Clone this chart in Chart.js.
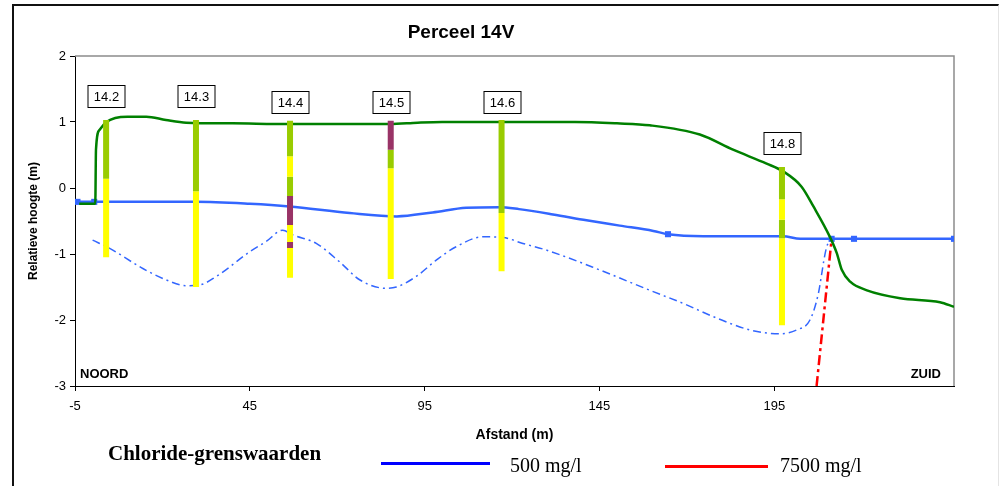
<!DOCTYPE html>
<html>
<head>
<meta charset="utf-8">
<script src="https://cdn.jsdelivr.net/npm/chart.js"></script>
<style>
body { margin: 0; background: #fff; }
.wrap { position: relative; width: 1002px; height: 486px; overflow: hidden; }
.kader { position: absolute; left: 12px; top: 4px; width: 987px; height: 520px; border-left: 2px solid #111; border-top: 2px solid #111; border-right: 1px solid #e4e4e4; box-sizing: border-box; }
.titel { position: absolute; left: 361px; top: 22px; width: 200px; text-align: center; font: bold 19px/19px 'Liberation Sans', Arial, sans-serif; }
.leg { position: absolute; font-family: 'Liberation Serif', 'Times New Roman', serif; white-space: nowrap; }
.legkop { left: 108px; top: 443px; font-size: 21px; line-height: 21px; font-weight: bold; }
.legtxt { top: 455px; font-size: 20px; line-height: 20px; }
.legline { position: absolute; height: 3px; }
</style>
</head>
<body>
<div class="wrap">
    <canvas id="chartPerceel14V"></canvas>
    <div class="kader"></div>
    <div class="titel">Perceel 14V</div>
    <div class="leg legkop">Chloride-grenswaarden</div>
    <div class="legline" style="left:381px;top:462px;width:109px;background:#0000FF"></div>
    <div class="leg legtxt" style="left:510px">500 mg/l</div>
    <div class="legline" style="left:665px;top:465px;width:103px;background:#FF0000"></div>
    <div class="leg legtxt" style="left:780px">7500 mg/l</div>
</div>
<script>
// assen
const xTicks = [-5, 45, 95, 145, 195];
const yTicks = [-3, -2, -1, 0, 1, 2];

// maaiveld (groen)
const maaiveldX = [-3.8, 0.8, 1.0, 2.0, 4.0, 6.5, 10, 15.4, 21, 26.8, 40, 56.4, 85, 93, 100, 138, 150, 159.4, 173.7, 183.2, 192.8, 197.6, 202.8, 206.2, 210.9, 212.9, 214.3, 216.7, 221.5, 231, 242.4, 246.4];
const maaiveldY = [-0.24, -0.24, 0.58, 0.88, 1.0, 1.06, 1.08, 1.08, 1.03, 0.99, 0.98, 0.97, 0.97, 0.99, 1.0, 1.0, 0.98, 0.95, 0.81, 0.58, 0.37, 0.25, 0.02, -0.28, -0.74, -0.99, -1.24, -1.42, -1.55, -1.67, -1.73, -1.8];

// grondwater (blauw)
const waterX = [-4.3, 0.5, 15, 29.5, 45, 56.3, 73.6, 87, 97.3, 106.9, 116.4, 122, 131.7, 141.3, 150.8, 160.4, 164.6, 174.7, 197.5, 202.4, 211.4, 217.8, 246.4];
const waterY = [-0.21, -0.21, -0.21, -0.21, -0.24, -0.28, -0.38, -0.43, -0.37, -0.30, -0.29, -0.32, -0.40, -0.49, -0.57, -0.65, -0.70, -0.73, -0.73, -0.77, -0.77, -0.77, -0.77];
const waterMeetpunten = [0, 1, 16, 20, 21, 22];

// chloride 500 mg/l
const cl500X = [0.04, 4.8, 14.4, 21, 26.8, 30.6, 35.4, 44.9, 49.7, 54.4, 57.3, 64, 70.7, 76.4, 84, 86.9, 92.6, 98.4, 104, 111.7, 117.4, 123.1, 129.8, 145, 159.4, 169, 178.5, 188, 196.6, 201.4, 205.2, 207.6, 208.6, 209.2, 210, 211.4];
const cl500Y = [-0.79, -0.91, -1.22, -1.39, -1.48, -1.47, -1.34, -0.97, -0.81, -0.64, -0.71, -0.84, -1.12, -1.39, -1.52, -1.50, -1.34, -1.09, -0.89, -0.74, -0.75, -0.84, -0.94, -1.24, -1.55, -1.75, -1.97, -2.15, -2.21, -2.15, -2.0, -1.6, -1.29, -1.09, -0.89, -0.77];

// chloride 7500 mg/l
const cl7500X = [207.1, 211.4];
const cl7500Y = [-3, -0.77];

// boringen
const boringNamen = ['14.2', '14.3', '14.4', '14.5', '14.6', '14.8'];
const boringX = [3.9, 29.6, 56.5, 85.3, 117.0, 197.2];
const boringLabelY = [1.39, 1.39, 1.30, 1.30, 1.30, 0.68];
const boringGrenzen = [
    [1.03, 0.14, -1.05],
    [1.03, -0.05, -1.5],
    [1.02, 0.48, 0.17, -0.12, -0.56, -0.82, -0.91, -1.36],
    [1.02, 0.58, 0.30, -1.38],
    [1.03, -0.38, -1.26],
    [0.32, -0.17, -0.48, -0.76, -2.08]
];
const boringLagen = [
    ['G', 'Y'],
    ['G', 'Y'],
    ['G', 'Y', 'G', 'M', 'Y', 'M', 'Y'],
    ['M', 'G', 'Y'],
    ['G', 'Y'],
    ['G', 'Y', 'G', 'Y']
];
const laagKleur = { G: '#99CC00', Y: '#FFFF00', M: '#993366' };

function punten(xs, ys) {
    return xs.map(function (x, i) { return { x: x, y: ys[i] }; });
}

const datasets = [];

boringX.forEach(function (bx, b) {
    boringLagen[b].forEach(function (laag, i) {
        datasets.push({
            data: [{ x: bx, y: boringGrenzen[b][i] }, { x: bx, y: boringGrenzen[b][i + 1] }],
            borderColor: laagKleur[laag],
            borderWidth: 6,
            borderCapStyle: 'butt',
            pointRadius: 0,
            order: 0
        });
    });
});

datasets.push({
    label: 'maaiveld',
    data: punten(maaiveldX, maaiveldY),
    borderColor: '#008000',
    borderWidth: 2.5,
    pointRadius: 0,
    cubicInterpolationMode: 'monotone',
    order: 1
});
datasets.push({
    label: 'grondwater',
    data: punten(waterX, waterY),
    borderColor: '#3366FF',
    backgroundColor: '#3366FF',
    borderWidth: 2.5,
    pointStyle: 'rect',
    pointRadius: waterX.map(function (v, i) { return waterMeetpunten.indexOf(i) >= 0 ? 4.3 : 0; }),
    pointBorderWidth: 0,
    cubicInterpolationMode: 'monotone',
    order: 2
});
datasets.push({
    label: '500 mg/l',
    data: punten(cl500X, cl500Y),
    borderColor: '#3366FF',
    borderWidth: 1.5,
    borderDash: [8, 4, 2, 4],
    pointRadius: 0,
    cubicInterpolationMode: 'monotone',
    order: 3
});
datasets.push({
    label: '7500 mg/l',
    data: punten(cl7500X, cl7500Y),
    borderColor: '#FF0000',
    borderWidth: 2.5,
    borderDash: [10, 4, 3, 4],
    pointRadius: 0,
    order: 3
});

const tekstPlugin = {
    id: 'tekst',
    beforeDatasetsDraw: function (chart) {
        const ctx = chart.ctx, a = chart.chartArea;
        ctx.save();
        ctx.strokeStyle = '#8c8c8c';
        ctx.lineWidth = 1.5;
        ctx.beginPath();
        ctx.moveTo(a.left, a.top);
        ctx.lineTo(a.right, a.top);
        ctx.lineTo(a.right, a.bottom);
        ctx.stroke();
        ctx.restore();
    },
    afterDatasetsDraw: function (chart) {
        const ctx = chart.ctx, a = chart.chartArea;
        const xs = chart.scales.x, ys = chart.scales.y;
        ctx.save();
        ctx.font = "13px 'Liberation Sans', Arial, sans-serif";
        ctx.textAlign = 'center';
        ctx.textBaseline = 'middle';
        boringNamen.forEach(function (naam, i) {
            const px = Math.round(xs.getPixelForValue(boringX[i]));
            const py = Math.round(ys.getPixelForValue(boringLabelY[i]));
            const w = Math.round(ctx.measureText(naam).width + 12);
            const h = 22;
            ctx.fillStyle = '#fff';
            ctx.fillRect(px - w / 2, py - h / 2, w, h);
            ctx.strokeStyle = '#000';
            ctx.lineWidth = 1;
            ctx.strokeRect(px - w / 2 + 0.5, py - h / 2 + 0.5, w, h);
            ctx.fillStyle = '#000';
            ctx.fillText(naam, px + 0.5, py + 1);
        });
        ctx.font = "bold 13px 'Liberation Sans', Arial, sans-serif";
        ctx.textAlign = 'left';
        ctx.fillText('NOORD', a.left + 5, a.bottom - 12);
        ctx.textAlign = 'right';
        ctx.fillText('ZUID', a.right - 13, a.bottom - 12);
        ctx.restore();
    }
};

const configPerceel14V = {
    type: 'line',
    data: { datasets: datasets },
    options: {
        responsive: true,
        maintainAspectRatio: false,
        animation: false,
        layout: { padding: { left: 0, top: 56, right: 48, bottom: 30 } },
        plugins: {
            legend: { display: false },
            title: { display: false },
            tooltip: { enabled: false }
        },
        scales: {
            x: {
                type: 'linear',
                min: -5,
                max: 246.4,
                afterBuildTicks: function (scale) { scale.ticks = xTicks.map(function (v) { return { value: v }; }); },
                afterFit: function (scale) { scale.height = 70; },
                grid: { drawOnChartArea: false, tickLength: 5, color: '#000' },
                border: { color: '#000', width: 1 },
                ticks: { color: '#000', font: { size: 13 }, padding: 8, maxRotation: 0 },
                title: { display: true, text: 'Afstand (m)', color: '#000', font: { size: 14, weight: 'bold' }, padding: { top: 0, bottom: 12 } }
            },
            y: {
                min: -3,
                max: 2,
                afterBuildTicks: function (scale) { scale.ticks = yTicks.map(function (v) { return { value: v }; }); },
                afterFit: function (scale) { scale.width = 75; },
                grid: { drawOnChartArea: false, tickLength: 5, color: '#000' },
                border: { color: '#000', width: 1 },
                ticks: { color: '#000', font: { size: 13 }, padding: 4 },
                title: { display: true, text: 'Relatieve hoogte (m)', color: '#000', font: { size: 12, weight: 'bold' }, padding: { top: 26, bottom: 0 } }
            }
        }
    },
    plugins: [tekstPlugin]
};

Chart.defaults.font.family = "'Liberation Sans', Arial, sans-serif";

var chartPerceel14V = new Chart(
    document.getElementById('chartPerceel14V'),
    configPerceel14V
);
</script>
</body>
</html>
